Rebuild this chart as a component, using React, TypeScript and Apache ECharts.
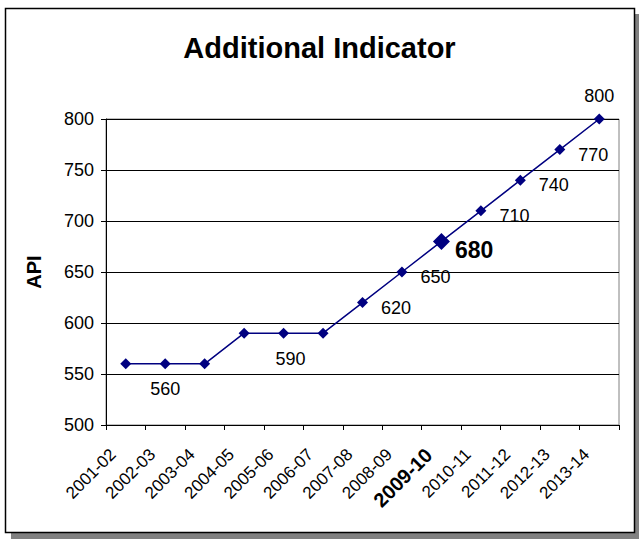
import React, { useEffect, useRef } from "react";
import * as echarts from "echarts";

const categories = [
  "2001-02", "2002-03", "2003-04", "2004-05", "2005-06", "2006-07", "2007-08",
  "2008-09", "2009-10", "2010-11", "2011-12", "2012-13", "2013-14",
];
const values = [560, 560, 560, 590, 590, 590, 620, 650, 680, 710, 740, 770, 800];
const highlightIndex = 8;
const labelBelow = [1, 4];
const labelRight = [6, 7, 9, 10, 11];
const labelTop = [12];

export default function App() {
  const ref = useRef<HTMLDivElement>(null);
  useEffect(() => {
    const chart = echarts.init(ref.current!, null, { renderer: "svg" });
    const font = "Arial, 'Liberation Sans', sans-serif";
    const data = values.map((v, i) => {
      const item: any = { value: v, label: { show: false } };
      if (labelBelow.includes(i)) {
        item.label = { show: true, position: "bottom", distance: 11, offset: [i === 4 ? 7 : 0, 0] };
      } else if (labelRight.includes(i)) {
        item.label = { show: true, position: "right", distance: 13, offset: [0, 5] };
      } else if (labelTop.includes(i)) {
        item.label = { show: true, position: "top", distance: 9 };
      } else if (i === highlightIndex) {
        item.symbolSize = 17;
        item.label = {
          show: true, position: "right", distance: 5, offset: [0, 9],
          fontWeight: "bold", fontSize: 23,
        };
      }
      return item;
    });
    const xData = categories.map((c, i) =>
      i === highlightIndex
        ? { value: c, textStyle: { fontWeight: "bold", fontSize: 20, color: "#000" } }
        : c
    );
    chart.setOption({
      animation: false,
      textStyle: { fontFamily: font },
      graphic: [
        { type: "rect", shape: { x: 11, y: 14, width: 640, height: 540 }, style: { fill: "#808080" }, z: -10 },
        { type: "rect", shape: { x: 5.5, y: 8.5, width: 629, height: 524 }, style: { fill: "#fff", stroke: "#000", lineWidth: 1.5 }, z: -9 },
      ],
      title: {
        text: "Additional Indicator",
        left: "center",
        top: 28,
        textStyle: { fontFamily: font, fontWeight: "bold", fontSize: 29, color: "#000" },
      },
      grid: {
        left: 106, top: 119, right: 20, bottom: 114,
        show: true, borderColor: "#808080", borderWidth: 1, backgroundColor: "transparent",
      },
      xAxis: {
        type: "category",
        data: xData,
        boundaryGap: true,
        axisLine: { lineStyle: { color: "#000", width: 1 } },
        axisTick: { show: true, alignWithLabel: false, length: 5, lineStyle: { color: "#000" } },
        axisLabel: {
          rotate: 45, interval: 0, margin: 14, padding: [0, 18, 0, 0],
          fontSize: 17, color: "#000", fontFamily: font,
        },
        splitLine: { show: false },
      },
      yAxis: {
        type: "value",
        min: 500, max: 800, interval: 50,
        name: "API",
        nameLocation: "middle",
        nameRotate: 90,
        nameGap: 62,
        nameTextStyle: { fontWeight: "bold", fontSize: 20, color: "#000", fontFamily: font },
        axisLine: { show: true, lineStyle: { color: "#000", width: 1 } },
        axisTick: { show: true, length: 5, lineStyle: { color: "#000" } },
        axisLabel: { fontSize: 18, color: "#000", margin: 12, fontFamily: font },
        splitLine: { show: true, lineStyle: { color: "#000", width: 1 } },
      },
      series: [
        {
          type: "line",
          data,
          symbol: "diamond",
          symbolSize: 11,
          lineStyle: { color: "#000080", width: 1.5 },
          itemStyle: { color: "#000080" },
          label: { fontSize: 18, color: "#000", fontFamily: font },
        },
      ],
    });
    return () => chart.dispose();
  }, []);
  return (
    <div
      ref={ref}
      style={{ position: "fixed", left: 0, top: 0, width: 639, height: 539, background: "#fff" }}
    />
  );
}
